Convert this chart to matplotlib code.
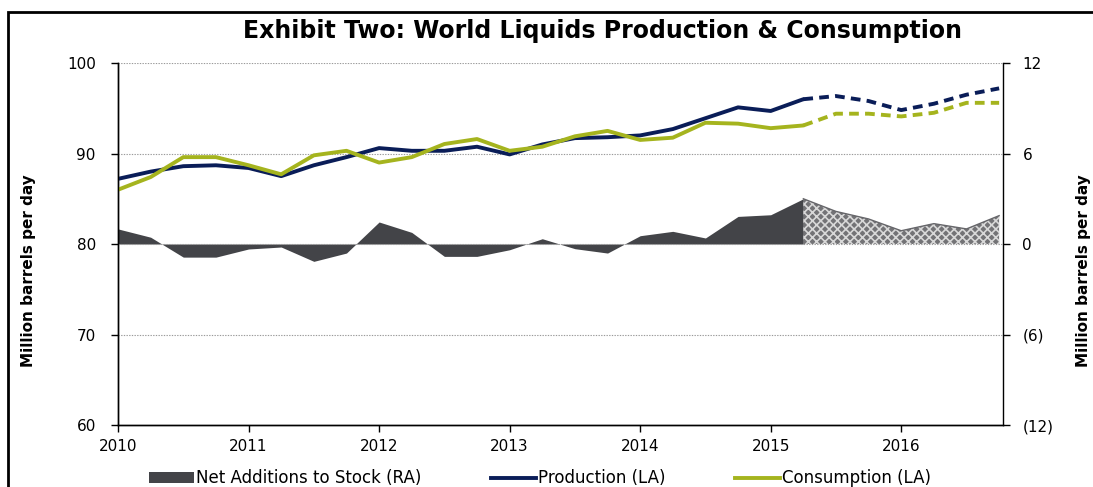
import matplotlib
matplotlib.use("Agg")
import matplotlib.pyplot as plt
from matplotlib.patches import Patch, Rectangle
from matplotlib.lines import Line2D

# quarterly data, 2010Q1 .. 2016Q4 (forecast from 2015Q2)
quarters = [f"{y}Q{q}" for y in range(2010, 2017) for q in range(1, 5)]
production = [87.2, 88.0, 88.6, 88.7, 88.4, 87.5, 88.7, 89.6, 90.6, 90.3, 90.3, 90.75, 89.9, 91.0,
              91.7, 91.8, 92.0, 92.7, 93.9, 95.1, 94.7, 96.0, 96.35, 95.8, 94.8, 95.5, 96.5, 97.2]
consumption = [86.0, 87.4, 89.6, 89.6, 88.7, 87.7, 89.8, 90.3, 89.0, 89.6, 91.05, 91.6, 90.3, 90.75,
               91.9, 92.5, 91.5, 91.75, 93.4, 93.3, 92.8, 93.1, 94.4, 94.4, 94.1, 94.5, 95.6, 95.6]
net_stock = [1.0, 0.45, -0.87, -0.87, -0.33, -0.2, -1.15, -0.6, 1.46, 0.77, -0.82, -0.82, -0.38, 0.35,
             -0.31, -0.6, 0.55, 0.84, 0.4, 1.83, 1.94, 3.0, 2.16, 1.66, 0.88, 1.35, 1.0, 1.88]
forecast_start = "2015Q2"
left_ticks = [60, 70, 80, 90, 100]
right_ticks = [-12, -6, 0, 6, 12]
right_labels = ["(12)", "(6)", "0", "6", "12"]
years = list(range(2010, 2017))

NAVY = "#0a1d58"
GREEN = "#a5b41e"
GREY = "#434448"

x = [int(q[:4]) + (int(q[-1]) - 1) / 4 for q in quarters]
k = quarters.index(forecast_start)

plt.rcParams["font.family"] = "DejaVu Sans"
plt.rcParams["hatch.linewidth"] = 1.2
fig = plt.figure(figsize=(10.93, 4.87), dpi=100)
ax = fig.add_axes([0.108, 0.1273, 0.8097, 0.7433])
ax2 = ax.twinx()

ax2.fill_between(x[:k + 1], 0, net_stock[:k + 1], color=GREY, lw=0, interpolate=True)
ax2.fill_between(x[k:], 0, net_stock[k:], facecolor="#737376", edgecolor="#d8d8d8",
                 hatch="xxxx", lw=0)
ax2.plot(x[k:], net_stock[k:], color="#66666a", lw=1)

ax.plot(x[:k + 1], production[:k + 1], color=NAVY, lw=2.8, solid_capstyle="round")
ax.plot(x[k:], production[k:], color=NAVY, lw=2.8, ls=(0, (2.5, 1.6)))
ax.plot(x[:k + 1], consumption[:k + 1], color=GREEN, lw=2.8, solid_capstyle="round")
ax.plot(x[k:], consumption[k:], color=GREEN, lw=2.8, ls=(0, (2.5, 1.6)))

ax.set_zorder(ax2.get_zorder() + 1)
ax.patch.set_visible(False)

ax.set_xlim(2010, 2016.78)
ax.set_ylim(60, 100)
ax2.set_ylim(-12, 12)
ax.set_yticks(left_ticks)
ax2.set_yticks(right_ticks)
ax2.set_yticklabels(right_labels)
ax.set_xticks(years)
ax.set_xticklabels([str(y) for y in years])
for t in left_ticks[1:]:
    ax.axhline(t, color="#9a9a9a", lw=0.8, ls=(0, (1.2, 1.2)), zorder=0)

for a in (ax, ax2):
    a.spines["top"].set_visible(False)
    for s in a.spines.values():
        s.set_linewidth(1.0)
ax.spines["right"].set_visible(False)
ax.tick_params(axis="y", length=5, width=1, pad=11, labelsize=11)
ax.tick_params(axis="x", length=5, width=1, pad=5, labelsize=11)
ax2.tick_params(axis="y", length=5, width=1, pad=9, labelsize=11)

fig.text(0.551, 0.936, "Exhibit Two: World Liquids Production & Consumption",
         ha="center", va="center", fontsize=17, fontweight="bold")
fig.text(0.026, 0.445, "Million barrels per day", rotation=90, ha="center", va="center",
         fontsize=11, fontweight="bold")
fig.text(0.9915, 0.445, "Million barrels per day", rotation=90, ha="center", va="center",
         fontsize=11, fontweight="bold")

handles = [Patch(facecolor=GREY, edgecolor="none"),
           Line2D([], [], color=NAVY, lw=2.8),
           Line2D([], [], color=GREEN, lw=2.8)]
labels = ["Net Additions to Stock (RA)", "Production (LA)", "Consumption (LA)"]
fig.legend(handles, labels, loc="center", bbox_to_anchor=(0.494, 0.018), ncol=3, frameon=False,
           fontsize=12, handlelength=2.7, handleheight=0.6, handletextpad=0.12, columnspacing=4.2)

fig.patches.append(Rectangle((0.0073, -0.05), 1.1, 0.9754 + 0.05, transform=fig.transFigure,
                             fill=False, edgecolor="black", lw=2))

fig.savefig("out.png", dpi=100)
